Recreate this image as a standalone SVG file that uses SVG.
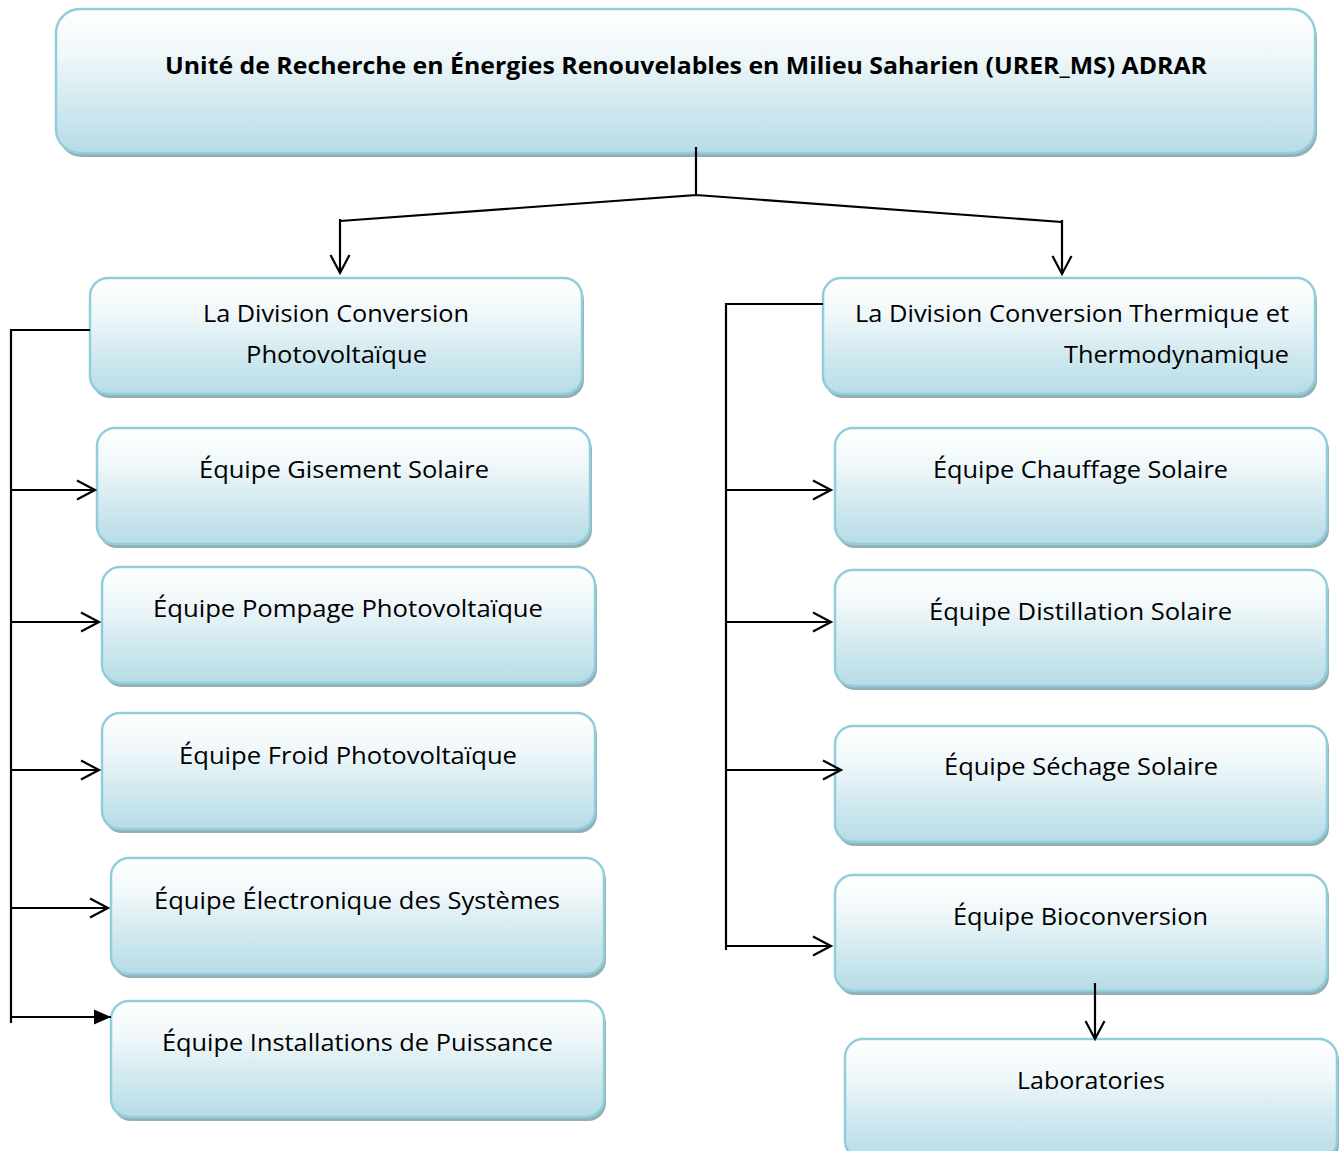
<svg xmlns="http://www.w3.org/2000/svg" width="1340" height="1151" viewBox="0 0 1340 1151">
<defs>
<linearGradient id="g" x1="0" y1="0" x2="0" y2="1">
<stop offset="0" stop-color="#ffffff"/>
<stop offset="0.3" stop-color="#f1f8fa"/>
<stop offset="0.65" stop-color="#d2e9f0"/>
<stop offset="1" stop-color="#b6dce6"/>
</linearGradient>
<marker id="open" markerUnits="userSpaceOnUse" markerWidth="22" markerHeight="22" viewBox="0 0 22 22" refX="19" refY="11" orient="auto">
<path d="M1,1.5 L19,11 L1,20.5" fill="none" stroke="#000" stroke-width="2.2"/>
</marker>
<marker id="fill" markerUnits="userSpaceOnUse" markerWidth="18" markerHeight="16" viewBox="0 0 18 16" refX="17" refY="8" orient="auto">
<path d="M0,0.5 L17,8 L0,15.5 Z" fill="#000"/>
</marker>
</defs>
<style>
.box{fill:url(#g);stroke:#92cddc;stroke-width:2.5}
.sh{fill:#93afb6}
text{font-family:"Open Sans","Liberation Sans",sans-serif;font-size:24px;fill:#000;text-anchor:middle}
.b{font-weight:bold}
.c{fill:none;stroke:#000;stroke-width:2.2}
</style>
<rect width="1340" height="1151" fill="#fff"/>
<g id="top">
<rect class="sh" x="58" y="13" width="1259" height="144" rx="24"/>
<rect class="box" x="56" y="9" width="1259" height="144" rx="24"/>
<text class="b" x="686" y="74" textLength="1042" lengthAdjust="spacingAndGlyphs">Unité de Recherche en Énergies Renouvelables en Milieu Saharien (URER_MS) ADRAR</text>
</g>
<g id="div-pv">
<rect class="sh" x="92" y="282" width="492" height="116" rx="18"/>
<rect class="box" x="90" y="278" width="492" height="116" rx="18"/>
<text x="336" y="322" textLength="266" lengthAdjust="spacingAndGlyphs">La Division Conversion</text>
<text x="336.5" y="363" textLength="181" lengthAdjust="spacingAndGlyphs">Photovoltaïque</text>
</g>
<g id="gisement">
<rect class="sh" x="99" y="432" width="493" height="116" rx="18"/>
<rect class="box" x="97" y="428" width="493" height="116" rx="18"/>
<text x="344" y="478" textLength="290" lengthAdjust="spacingAndGlyphs">Équipe Gisement Solaire</text>
</g>
<g id="pompage">
<rect class="sh" x="104" y="571" width="493" height="116" rx="18"/>
<rect class="box" x="102" y="567" width="493" height="116" rx="18"/>
<text x="348" y="617" textLength="390" lengthAdjust="spacingAndGlyphs">Équipe Pompage Photovoltaïque</text>
</g>
<g id="froid">
<rect class="sh" x="104" y="717" width="493" height="116" rx="18"/>
<rect class="box" x="102" y="713" width="493" height="116" rx="18"/>
<text x="348" y="764" textLength="338" lengthAdjust="spacingAndGlyphs">Équipe Froid Photovoltaïque</text>
</g>
<g id="electronique">
<rect class="sh" x="113" y="862" width="493" height="116" rx="18"/>
<rect class="box" x="111" y="858" width="493" height="116" rx="18"/>
<text x="357" y="909" textLength="406" lengthAdjust="spacingAndGlyphs">Équipe Électronique des Systèmes</text>
</g>
<g id="installations">
<rect class="sh" x="113" y="1005" width="493" height="116" rx="18"/>
<rect class="box" x="111" y="1001" width="493" height="116" rx="18"/>
<text x="357.5" y="1051" textLength="391" lengthAdjust="spacingAndGlyphs">Équipe Installations de Puissance</text>
</g>
<g id="div-thermique">
<rect class="sh" x="825" y="282" width="492" height="116" rx="18"/>
<rect class="box" x="823" y="278" width="492" height="116" rx="18"/>
<text x="1072" y="322" textLength="434" lengthAdjust="spacingAndGlyphs">La Division Conversion Thermique et</text>
<text x="1289" y="363" style="text-anchor:end" textLength="225" lengthAdjust="spacingAndGlyphs">Thermodynamique</text>
</g>
<g id="chauffage">
<rect class="sh" x="837" y="432" width="492" height="116" rx="18"/>
<rect class="box" x="835" y="428" width="492" height="116" rx="18"/>
<text x="1080.5" y="478" textLength="295" lengthAdjust="spacingAndGlyphs">Équipe Chauffage Solaire</text>
</g>
<g id="distillation">
<rect class="sh" x="837" y="574" width="492" height="116" rx="18"/>
<rect class="box" x="835" y="570" width="492" height="116" rx="18"/>
<text x="1080.5" y="620" textLength="303" lengthAdjust="spacingAndGlyphs">Équipe Distillation Solaire</text>
</g>
<g id="sechage">
<rect class="sh" x="837" y="730" width="492" height="116" rx="18"/>
<rect class="box" x="835" y="726" width="492" height="116" rx="18"/>
<text x="1081" y="775" textLength="274" lengthAdjust="spacingAndGlyphs">Équipe Séchage Solaire</text>
</g>
<g id="bioconversion">
<rect class="sh" x="837" y="879" width="492" height="116" rx="18"/>
<rect class="box" x="835" y="875" width="492" height="116" rx="18"/>
<text x="1080.5" y="925" textLength="255" lengthAdjust="spacingAndGlyphs">Équipe Bioconversion</text>
</g>
<g id="laboratories">
<rect class="sh" x="847" y="1043" width="492" height="120" rx="18"/>
<rect class="box" x="845" y="1039" width="492" height="120" rx="18"/>
<text x="1091" y="1089" textLength="148" lengthAdjust="spacingAndGlyphs">Laboratories</text>
</g>
<g id="connectors">
<path class="c" d="M696,147 V195 L340,221 M696,195 L1062,222"/>
<path class="c" d="M340,219 V273" marker-end="url(#open)"/>
<path class="c" d="M1062,220 V274" marker-end="url(#open)"/>
<path class="c" d="M90,330 H11 V1023"/>
<path class="c" d="M11,490 H95" marker-end="url(#open)"/>
<path class="c" d="M11,622 H99" marker-end="url(#open)"/>
<path class="c" d="M11,770 H99" marker-end="url(#open)"/>
<path class="c" d="M11,908 H108" marker-end="url(#open)"/>
<path class="c" d="M10,1017 H111" marker-end="url(#fill)"/>
<path class="c" d="M823,304 H726 V950"/>
<path class="c" d="M726,490 H831" marker-end="url(#open)"/>
<path class="c" d="M726,622 H831" marker-end="url(#open)"/>
<path class="c" d="M726,770 H841" marker-end="url(#open)"/>
<path class="c" d="M726,946 H831" marker-end="url(#open)"/>
<path class="c" d="M1095,983 V1039" marker-end="url(#open)"/>
</g>
</svg>
